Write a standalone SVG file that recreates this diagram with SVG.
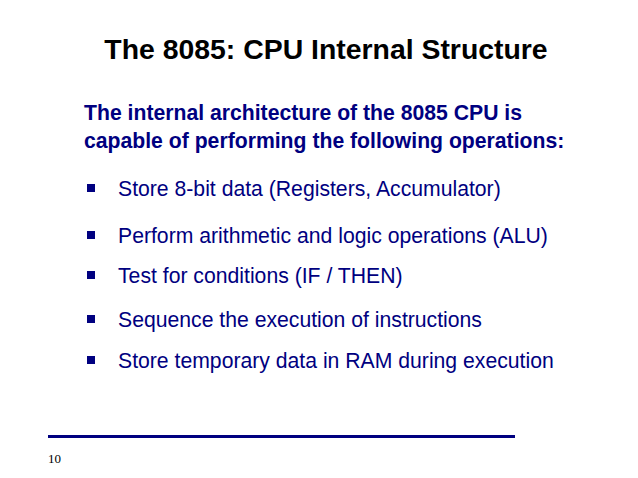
<svg xmlns="http://www.w3.org/2000/svg" width="638" height="478" viewBox="0 0 638 478">
<style>
.b{font-family:"Liberation Sans",Arial,sans-serif;font-size:21.2px;fill:#000080}
.s{font-family:"Liberation Sans",Arial,sans-serif;font-size:21.2px;font-weight:bold;fill:#000080}
.q{fill:#000080}
</style>
<rect width="638" height="478" fill="#fff"/>
<text x="326" y="59" text-anchor="middle" font-family="'Liberation Sans',Arial,sans-serif" font-size="28.4" font-weight="bold" fill="#000">The 8085: CPU Internal Structure</text>
<text class="s" x="84" y="120">The internal architecture of the 8085 CPU is</text>
<text class="s" x="84" y="148">capable of performing the following operations:</text>
<g id="bullets">
<rect class="q" x="87" y="184" width="8" height="8"/><text class="b" x="118" y="196">Store 8-bit data (Registers, Accumulator)</text>
<rect class="q" x="87" y="231" width="8" height="8"/><text class="b" x="118" y="243">Perform arithmetic and logic operations (ALU)</text>
<rect class="q" x="87" y="271" width="8" height="8"/><text class="b" x="118" y="283">Test for conditions (IF / THEN)</text>
<rect class="q" x="87" y="315" width="8" height="8"/><text class="b" x="118" y="327">Sequence the execution of instructions</text>
<rect class="q" x="87" y="356" width="8" height="8"/><text class="b" x="118" y="368">Store temporary data in RAM during execution</text>
</g>
<rect x="48" y="435" width="467" height="3" fill="#000080"/>
<text x="48" y="463" font-family="'Liberation Serif','Times New Roman',serif" font-size="13" fill="#000">10</text>
</svg>
